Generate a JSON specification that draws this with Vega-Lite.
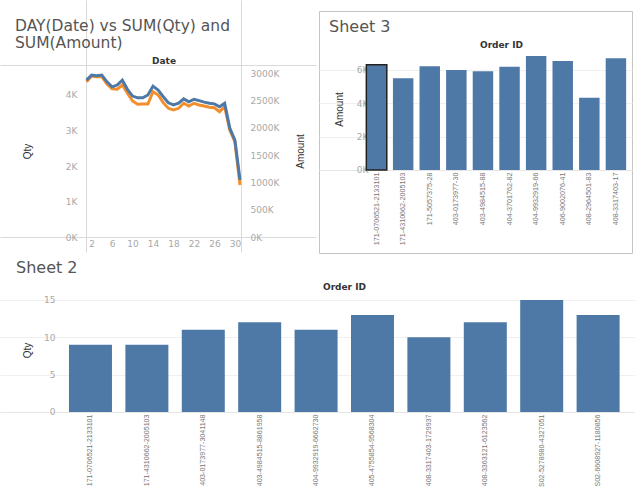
{
  "$schema": "https://vega.github.io/schema/vega-lite/v6.json",
  "padding": 0,
  "background": "white",
  "datasets": {
    "daily": [
      {"day": 1, "qty": 4420, "amount": 2844000},
      {"day": 2, "qty": 4560, "amount": 2949000},
      {"day": 3, "qty": 4540, "amount": 2936000},
      {"day": 4, "qty": 4560, "amount": 2936000},
      {"day": 5, "qty": 4370, "amount": 2802000},
      {"day": 6, "qty": 4230, "amount": 2716000},
      {"day": 7, "qty": 4280, "amount": 2705000},
      {"day": 8, "qty": 4420, "amount": 2784000},
      {"day": 9, "qty": 4160, "amount": 2632000},
      {"day": 10, "qty": 3970, "amount": 2491000},
      {"day": 11, "qty": 3920, "amount": 2430000},
      {"day": 12, "qty": 3920, "amount": 2436000},
      {"day": 13, "qty": 4000, "amount": 2436000},
      {"day": 14, "qty": 4250, "amount": 2661000},
      {"day": 15, "qty": 4140, "amount": 2601000},
      {"day": 16, "qty": 3950, "amount": 2460000},
      {"day": 17, "qty": 3780, "amount": 2357000},
      {"day": 18, "qty": 3720, "amount": 2326000},
      {"day": 19, "qty": 3770, "amount": 2357000},
      {"day": 20, "qty": 3890, "amount": 2449000},
      {"day": 21, "qty": 3810, "amount": 2399000},
      {"day": 22, "qty": 3880, "amount": 2449000},
      {"day": 23, "qty": 3840, "amount": 2418000},
      {"day": 24, "qty": 3800, "amount": 2399000},
      {"day": 25, "qty": 3770, "amount": 2375000},
      {"day": 26, "qty": 3750, "amount": 2368000},
      {"day": 27, "qty": 3670, "amount": 2295000},
      {"day": 28, "qty": 3770, "amount": 2386000},
      {"day": 29, "qty": 3070, "amount": 1960000},
      {"day": 30, "qty": 2730, "amount": 1745000},
      {"day": 31, "qty": 1610, "amount": 952000}
    ],
    "sheet3": [
      {"order_id": "171-0706521-2133101", "amount": 6313},
      {"order_id": "171-4310662-2005103", "amount": 5500},
      {"order_id": "171-5057375-28", "amount": 6220},
      {"order_id": "403-0173977-30", "amount": 6000},
      {"order_id": "403-4984515-88", "amount": 5920},
      {"order_id": "404-3701762-82", "amount": 6200},
      {"order_id": "404-9932919-66", "amount": 6840},
      {"order_id": "406-9002076-41", "amount": 6540},
      {"order_id": "408-2964501-83", "amount": 4340},
      {"order_id": "408-3317403-17", "amount": 6700}
    ],
    "sheet2": [
      {"order_id": "171-0706521-2133101", "qty": 9},
      {"order_id": "171-4310662-2005103", "qty": 9},
      {"order_id": "403-0173977-3041148", "qty": 11},
      {"order_id": "403-4984515-8861958", "qty": 12},
      {"order_id": "404-9932919-6662730", "qty": 11},
      {"order_id": "405-4755854-9568304", "qty": 13},
      {"order_id": "408-3317403-1729937", "qty": 10},
      {"order_id": "408-3363121-6123562", "qty": 12},
      {"order_id": "S02-5278980-4327051", "qty": 15},
      {"order_id": "S02-6608927-1180856", "qty": 13}
    ]
  },
  "config": {
    "view": {"stroke": null},
    "axis": {
      "ticks": false,
      "grid": false,
      "labelFont": "DejaVu Sans",
      "labelFontSize": 9,
      "labelColor": "#a8a8a8",
      "titleFont": "Liberation Sans",
      "titleFontSize": 10,
      "titleFontWeight": "normal",
      "titleColor": "#333333",
      "domainColor": "#dadada",
      "labelOverlap": false
    },
    "title": {
      "font": "DejaVu Sans",
      "fontSize": 15,
      "fontWeight": "normal",
      "color": "#555555",
      "anchor": "start",
      "frame": "group"
    }
  },
  "spacing": 0,
  "vconcat": [
    {
      "spacing": 2,
      "hconcat": [
        {
          "width": 316,
          "height": 252,
          "title": {"text": ["DAY(Date) vs SUM(Qty) and", "SUM(Amount)"], "offset": -51, "dx": 15, "lineHeight": 17, "fontSize": 15.5},
          "data": {"name": "daily"},
          "layer": [
            {
              "mark": {"type": "line", "color": "#f28e2b", "strokeWidth": 3},
              "encoding": {
                "x": {
                  "field": "day", "type": "quantitative",
                  "scale": {"domain": [-15.9, 45.85], "nice": false, "zero": false},
                  "axis": {"orient": "top", "offset": -65, "labels": false, "title": "Date", "titleFont": "DejaVu Sans", "titleFontWeight": "bold", "titleFontSize": 9, "titleX": 163.5, "titleY": -5, "titleBaseline": "middle", "titleAlign": "center"}
                },
                "y": {
                  "field": "amount", "type": "quantitative",
                  "scale": {"domain": [-274725, 4340659], "nice": false, "zero": false},
                  "axis": {"orient": "right", "offset": -75, "values": [0, 500000, 1000000, 1500000, 2000000, 2500000, 3000000], "labelExpr": "datum.value/1000 + 'K'", "labelPadding": 9, "title": "Amount", "titleX": 59, "titleY": 151, "titleAngle": -90, "titleBaseline": "middle", "titleAlign": "center"}
                }
              }
            },
            {
              "mark": {"type": "line", "color": "#4e79a7", "strokeWidth": 3},
              "encoding": {
                "x": {
                  "field": "day", "type": "quantitative",
                  "scale": {"domain": [-15.9, 45.85], "nice": false, "zero": false},
                  "axis": {"orient": "bottom", "offset": -15, "values": [2, 6, 10, 14, 18, 22, 26, 30], "labelPadding": 2, "title": null}
                },
                "y": {
                  "field": "qty", "type": "quantitative",
                  "scale": {"domain": [-422.5, 6676], "nice": false, "zero": false},
                  "axis": {"orient": "left", "offset": -86, "values": [0, 1000, 2000, 3000, 4000], "labelExpr": "datum.value/1000 + 'K'", "labelPadding": 9, "title": "Qty", "titleX": -59, "titleY": 151, "titleAngle": -90, "titleBaseline": "middle", "titleAlign": "center"}
                }
              }
            }
          ],
          "resolve": {"scale": {"y": "independent"}, "axis": {"x": "independent", "y": "independent"}}
        },
        {
          "spacing": 0,
          "vconcat": [
            {
              "width": 313,
              "height": 10,
              "data": {"values": []},
              "mark": "point"
            },
            {
              "width": 313,
              "height": 242,
              "view": {"stroke": "#c4c4c4", "strokeWidth": 1},
              "title": {"text": "Sheet 3", "offset": -24, "dx": 10, "fontSize": 16},
              "data": {"name": "sheet3"},
              "layer": [
                {
                  "mark": {"type": "bar", "color": "#4e79a7", "strokeWidth": 1.5},
                  "encoding": {
                    "x": {
                      "field": "order_id", "type": "nominal", "sort": null,
                      "scale": {"paddingInner": 0.231, "paddingOuter": 1.285, "align": 0.89},
                      "axis": {"orient": "bottom", "offset": -83, "labelAngle": -90, "labelPadding": 2, "labelFont": "Liberation Sans", "labelFontSize": 7.2, "labelColor": "#777777", "labelLimit": 78, "domainColor": "#e6e6e6", "title": null}
                    },
                    "y": {
                      "field": "amount", "type": "quantitative",
                      "scale": {"domain": [-4979, 9538], "nice": false},
                      "axis": {"orient": "left", "offset": -56, "values": [0, 2000, 4000, 6000], "labelExpr": "datum.value/1000 + 'K'", "labelPadding": 7, "domain": false, "grid": true, "gridColor": "#f0f0f0", "title": "Amount", "titleX": -36, "titleY": 98, "titleAngle": -90, "titleBaseline": "middle", "titleAlign": "center"}
                    },
                    "stroke": {"condition": {"test": "datum.order_id === '171-0706521-2133101'", "value": "#222222"}, "value": "transparent"}
                  }
                },
                {
                  "mark": {"type": "point", "opacity": 0},
                  "encoding": {
                    "x": {
                      "field": "order_id", "type": "nominal", "sort": null,
                      "axis": {"orient": "top", "offset": 0, "labels": false, "domain": false, "title": "Order ID", "titleFont": "DejaVu Sans", "titleFontWeight": "bold", "titleFontSize": 9, "titleX": 182, "titleY": 33, "titleBaseline": "middle", "titleAlign": "center"}
                    }
                  }
                }
              ],
              "resolve": {"axis": {"x": "independent"}}
            }
          ]
        }
      ]
    },
    {
      "width": 635,
      "height": 235,
      "title": {"text": "Sheet 2", "offset": -22, "dx": 16, "fontSize": 16},
      "data": {"name": "sheet2"},
      "layer": [
        {
          "mark": {"type": "bar", "color": "#4e79a7"},
          "encoding": {
            "x": {
              "field": "order_id", "type": "nominal", "sort": null,
              "scale": {"paddingInner": 0.2376, "paddingOuter": 0.748, "align": 0.8175},
              "axis": {"orient": "bottom", "offset": -77, "labelAngle": -90, "labelPadding": 2, "labelFont": "Liberation Sans", "labelFontSize": 7.1, "labelColor": "#777777", "labelLimit": 0, "domainColor": "#e6e6e6", "title": null}
            },
            "y": {
              "field": "qty", "type": "quantitative",
              "scale": {"domain": [-10.31, 21.15], "nice": false},
              "axis": {"orient": "left", "offset": -63, "values": [0, 5, 10, 15], "labelPadding": 8, "domain": false, "grid": true, "gridColor": "#f0f0f0", "title": "Qty", "titleX": -36, "titleY": 96, "titleAngle": -90, "titleBaseline": "middle", "titleAlign": "center"}
            }
          }
        },
        {
          "mark": {"type": "point", "opacity": 0},
          "encoding": {
            "x": {
              "field": "order_id", "type": "nominal", "sort": null,
              "axis": {"orient": "top", "offset": 0, "labels": false, "domain": false, "title": "Order ID", "titleFont": "DejaVu Sans", "titleFontWeight": "bold", "titleFontSize": 9, "titleX": 344, "titleY": 32, "titleBaseline": "middle", "titleAlign": "center"}
            }
          }
        }
      ],
      "resolve": {"axis": {"x": "independent"}}
    }
  ]
}
